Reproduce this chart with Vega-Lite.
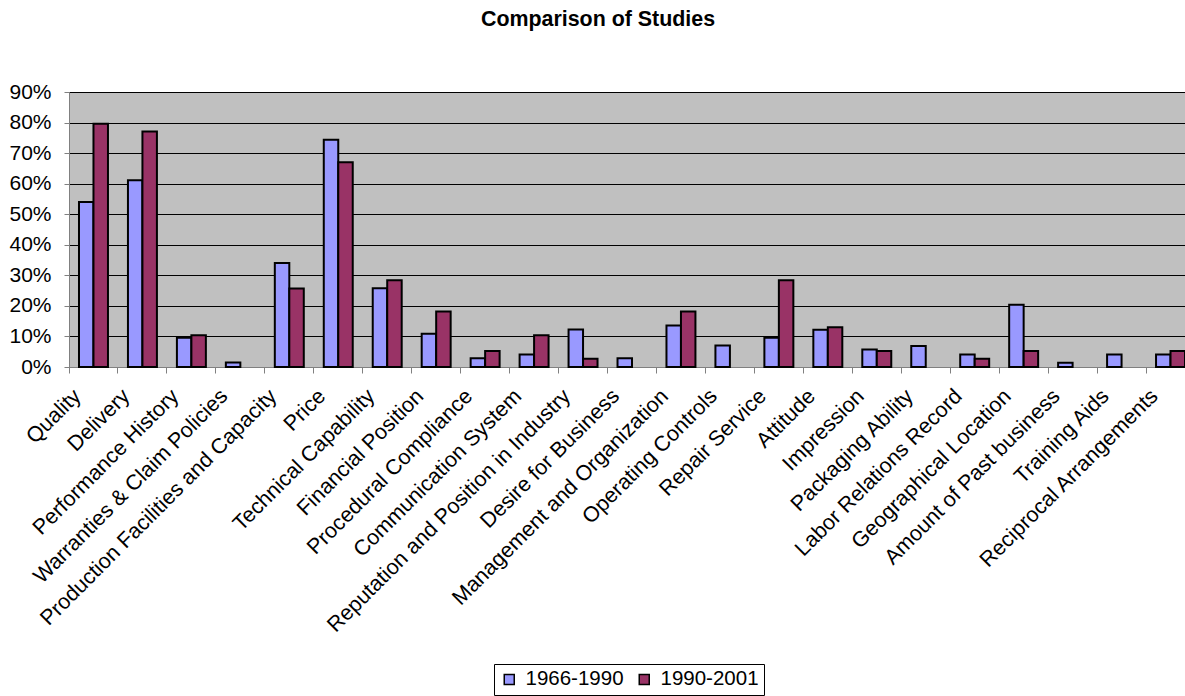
{
  "$schema": "https://vega.github.io/schema/vega-lite/v6.json",
  "width": 1116,
  "height": 275,
  "autosize": {"type": "none"},
  "padding": {"left": 69, "top": 92, "right": 0, "bottom": 329},
  "background": "white",
  "title": {"text": "Comparison of Studies", "font": "Liberation Sans", "fontSize": 21.4, "fontWeight": "bold", "anchor": "middle", "frame": "group", "dx": -29, "offset": 51, "color": "black"},
  "config": {"view": {"fill": "#C0C0C0", "stroke": null}, "font": "Liberation Sans"},
  "data": {"values": [
    {"factor": "Quality", "period": "1966-1990", "value": 0.540},
    {"factor": "Quality", "period": "1990-2001", "value": 0.796},
    {"factor": "Delivery", "period": "1966-1990", "value": 0.611},
    {"factor": "Delivery", "period": "1990-2001", "value": 0.771},
    {"factor": "Performance History", "period": "1966-1990", "value": 0.096},
    {"factor": "Performance History", "period": "1990-2001", "value": 0.104},
    {"factor": "Warranties & Claim Policies", "period": "1966-1990", "value": 0.015},
    {"factor": "Production Facilities and Capacity", "period": "1966-1990", "value": 0.340},
    {"factor": "Production Facilities and Capacity", "period": "1990-2001", "value": 0.257},
    {"factor": "Price", "period": "1966-1990", "value": 0.744},
    {"factor": "Price", "period": "1990-2001", "value": 0.670},
    {"factor": "Technical Capability", "period": "1966-1990", "value": 0.258},
    {"factor": "Technical Capability", "period": "1990-2001", "value": 0.284},
    {"factor": "Financial Position", "period": "1966-1990", "value": 0.109},
    {"factor": "Financial Position", "period": "1990-2001", "value": 0.182},
    {"factor": "Procedural Compliance", "period": "1966-1990", "value": 0.029},
    {"factor": "Procedural Compliance", "period": "1990-2001", "value": 0.052},
    {"factor": "Communication System", "period": "1966-1990", "value": 0.041},
    {"factor": "Communication System", "period": "1990-2001", "value": 0.104},
    {"factor": "Reputation and Position in Industry", "period": "1966-1990", "value": 0.123},
    {"factor": "Reputation and Position in Industry", "period": "1990-2001", "value": 0.027},
    {"factor": "Desire for Business", "period": "1966-1990", "value": 0.029},
    {"factor": "Management and Organization", "period": "1966-1990", "value": 0.136},
    {"factor": "Management and Organization", "period": "1990-2001", "value": 0.182},
    {"factor": "Operating Controls", "period": "1966-1990", "value": 0.070},
    {"factor": "Repair Service", "period": "1966-1990", "value": 0.096},
    {"factor": "Repair Service", "period": "1990-2001", "value": 0.284},
    {"factor": "Attitude", "period": "1966-1990", "value": 0.122},
    {"factor": "Attitude", "period": "1990-2001", "value": 0.130},
    {"factor": "Impression", "period": "1966-1990", "value": 0.057},
    {"factor": "Impression", "period": "1990-2001", "value": 0.052},
    {"factor": "Packaging Ability", "period": "1966-1990", "value": 0.069},
    {"factor": "Labor Relations Record", "period": "1966-1990", "value": 0.041},
    {"factor": "Labor Relations Record", "period": "1990-2001", "value": 0.027},
    {"factor": "Geographical Location", "period": "1966-1990", "value": 0.204},
    {"factor": "Geographical Location", "period": "1990-2001", "value": 0.052},
    {"factor": "Amount of Past business", "period": "1966-1990", "value": 0.014},
    {"factor": "Training Aids", "period": "1966-1990", "value": 0.041},
    {"factor": "Reciprocal Arrangements", "period": "1966-1990", "value": 0.041},
    {"factor": "Reciprocal Arrangements", "period": "1990-2001", "value": 0.052}
  ]},
  "mark": {"type": "bar", "stroke": "black", "strokeWidth": 2},
  "encoding": {
    "x": {
      "field": "factor", "type": "nominal", "sort": null,
      "scale": {"range": [0, 1126], "paddingInner": 0, "paddingOuter": 0},
      "axis": {"title": null, "labelAngle": -45, "labelFontSize": 21.5, "labelColor": "black", "bandPosition": 0, "labelOffset": -23.5, "domainColor": "#808080", "tickColor": "#808080", "tickSize": 6, "labelPadding": 12, "grid": false, "labelOverlap": false, "labelLimit": 0}
    },
    "xOffset": {"field": "period", "type": "nominal", "scale": {"paddingInner": 0, "paddingOuter": 0.69}},
    "y": {
      "field": "value", "type": "quantitative",
      "scale": {"domain": [0, 0.9], "nice": false},
      "axis": {"title": null, "format": ".0%", "values": [0, 0.1, 0.2, 0.3, 0.4, 0.5, 0.6, 0.7, 0.8, 0.9], "labelFontSize": 21, "labelColor": "black", "gridColor": "black", "gridWidth": 1, "domainColor": "#808080", "tickColor": "#808080", "tickSize": 5, "labelPadding": 13}
    },
    "color": {
      "field": "period", "type": "nominal",
      "scale": {"domain": ["1966-1990", "1990-2001"], "range": ["#9999FF", "#993366"]},
      "legend": {"orient": "none", "legendX": 425, "legendY": 572, "direction": "horizontal", "title": null, "strokeColor": "black", "padding": 5, "symbolType": "square", "symbolSize": 100, "symbolStrokeColor": "black", "symbolStrokeWidth": 1.5, "symbolOpacity": 1, "labelFontSize": 20.5, "labelColor": "black", "columnPadding": 10, "labelOffset": 6, "fillColor": "white"}
    }
  }
}
